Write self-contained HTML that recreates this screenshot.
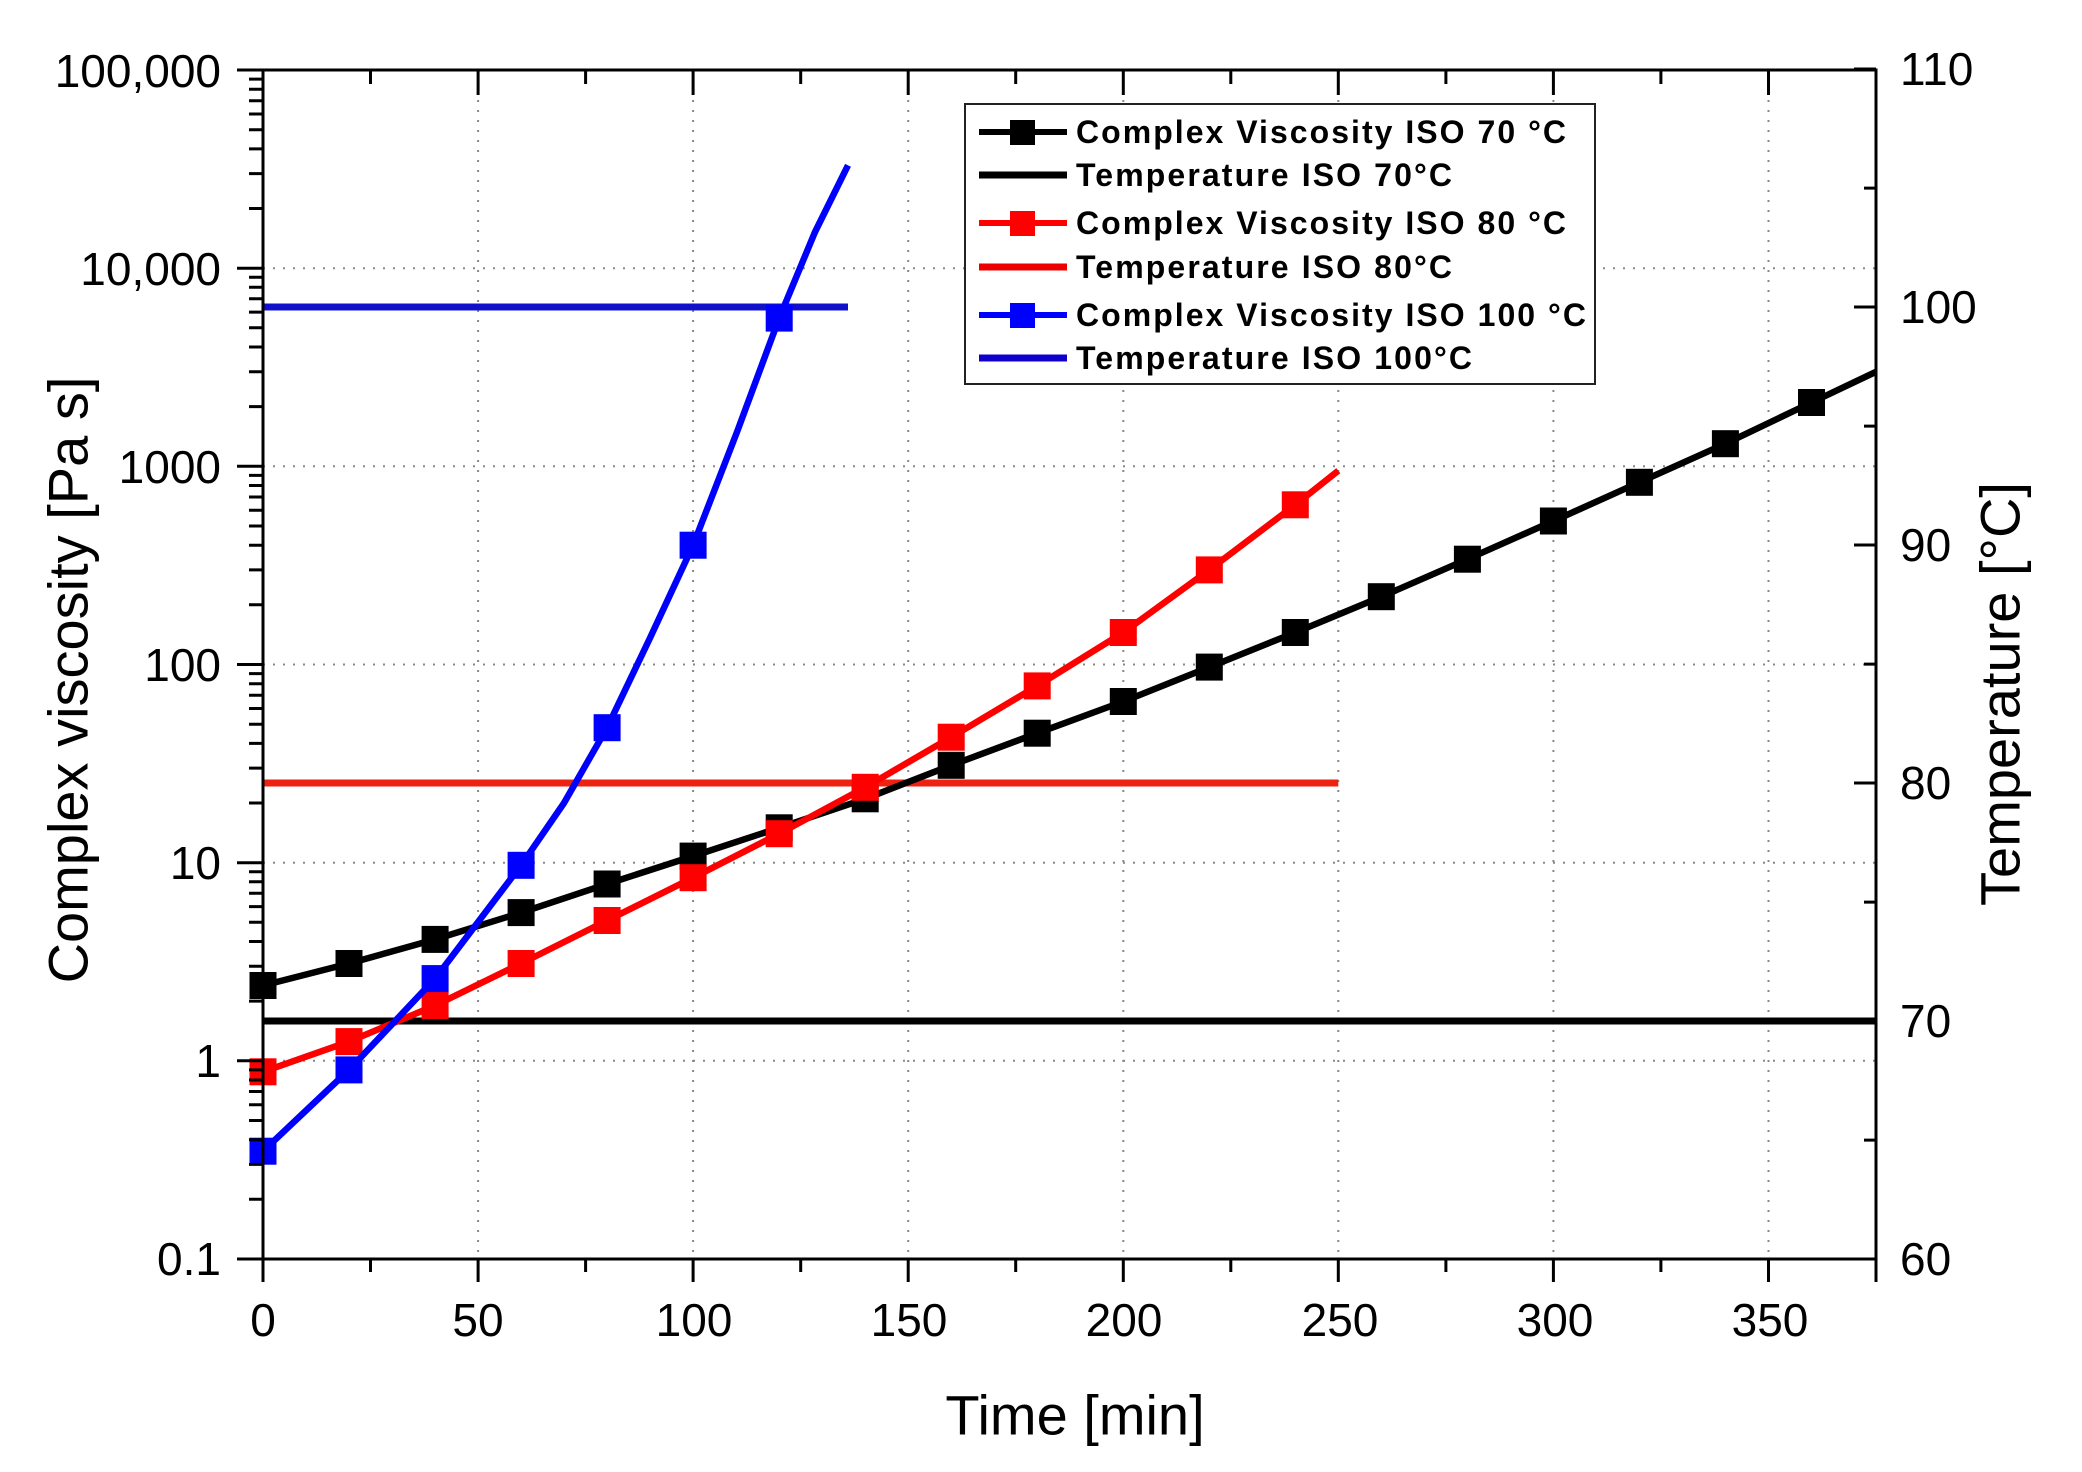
<!DOCTYPE html>
<html><head><meta charset="utf-8"><style>html,body{margin:0;padding:0;background:#fff}svg{display:block}</style></head>
<body>
<svg width="2082" height="1472" viewBox="0 0 2082 1472" xmlns="http://www.w3.org/2000/svg" font-family="Liberation Sans, Arial, sans-serif">
<defs>
<path id="dec" d="M-14,-59.7H0M-14,-94.6H0M-14,-119.3H0M-14,-138.5H0M-14,-154.2H0M-14,-167.5H0M-14,-179H0M-14,-189.1H0M-26,0H0" stroke="#000" stroke-width="3" fill="none"/>
</defs>
<rect width="2082" height="1472" fill="#fff"/>
<g stroke="#888" stroke-width="2" stroke-dasharray="2,8" fill="none">
<path d="M478.1,70V1259M693.1,70V1259M908.2,70V1259M1123.3,70V1259M1338.3,70V1259M1553.4,70V1259M1768.5,70V1259"/>
<path d="M263,862.7H1876M263,664.5H1876M263,466.3H1876M263,268.2H1876M263,1060.8H1876"/>
</g>
<line x1="263" y1="1021" x2="1876" y2="1021" stroke="#000" stroke-width="7"/>
<line x1="263" y1="783" x2="1338.3" y2="783" stroke="#e21" stroke-width="7"/>
<line x1="263" y1="307" x2="848" y2="307" stroke="#11c" stroke-width="7"/>
<polyline fill="none" stroke="#000" stroke-width="6.5" stroke-linejoin="round" points="263,985.5 349,963.5 435.1,939.4 521.1,912.6 607.1,884 693.1,856.1 779.2,827.8 865.2,798.8 951.2,765.3 1037.2,733.2 1123.3,701.5 1209.3,667.1 1295.3,632.5 1381.3,596.7 1467.4,559.2 1553.4,521 1639.4,482.3 1725.4,443.7 1811.5,402.5 1876,371.8"/>
<g fill="#000">
<rect x="249.5" y="972" width="27" height="27"/><rect x="335.5" y="950" width="27" height="27"/><rect x="421.6" y="925.9" width="27" height="27"/><rect x="507.6" y="899.1" width="27" height="27"/><rect x="593.6" y="870.5" width="27" height="27"/><rect x="679.6" y="842.6" width="27" height="27"/><rect x="765.7" y="814.3" width="27" height="27"/><rect x="851.7" y="785.3" width="27" height="27"/><rect x="937.7" y="751.8" width="27" height="27"/><rect x="1023.7" y="719.7" width="27" height="27"/><rect x="1109.8" y="688" width="27" height="27"/><rect x="1195.8" y="653.6" width="27" height="27"/><rect x="1281.8" y="619" width="27" height="27"/><rect x="1367.8" y="583.2" width="27" height="27"/><rect x="1453.9" y="545.7" width="27" height="27"/><rect x="1539.9" y="507.5" width="27" height="27"/><rect x="1625.9" y="468.8" width="27" height="27"/><rect x="1711.9" y="430.2" width="27" height="27"/><rect x="1798" y="389" width="27" height="27"/>
</g>
<polyline fill="none" stroke="#f00" stroke-width="6.5" stroke-linejoin="round" points="263,1071.8 349,1041.6 435.1,1005.5 521.1,963.5 607.1,920.5 693.1,877.7 779.2,833.7 865.2,787.3 951.2,737.2 1037.2,685.9 1123.3,632.5 1209.3,569.9 1295.3,504.8 1338.3,470.7"/>
<g fill="#f00">
<rect x="249.5" y="1058.3" width="27" height="27"/><rect x="335.5" y="1028.1" width="27" height="27"/><rect x="421.6" y="992" width="27" height="27"/><rect x="507.6" y="950" width="27" height="27"/><rect x="593.6" y="907" width="27" height="27"/><rect x="679.6" y="864.2" width="27" height="27"/><rect x="765.7" y="820.2" width="27" height="27"/><rect x="851.7" y="773.8" width="27" height="27"/><rect x="937.7" y="723.7" width="27" height="27"/><rect x="1023.7" y="672.4" width="27" height="27"/><rect x="1109.8" y="619" width="27" height="27"/><rect x="1195.8" y="556.4" width="27" height="27"/><rect x="1281.8" y="491.3" width="27" height="27"/>
</g>
<polyline fill="none" stroke="#00f" stroke-width="6.5" stroke-linejoin="round" points="263,1151.2 349,1069.9 435.1,978.6 521.1,865.3 564,803 607.1,727.7 650,638 693.1,545.2 737,432 779.2,318.1 815,232 848,165.3"/>
<g fill="#00f">
<rect x="249.5" y="1137.7" width="27" height="27"/><rect x="335.5" y="1056.4" width="27" height="27"/><rect x="421.6" y="965.1" width="27" height="27"/><rect x="507.6" y="851.8" width="27" height="27"/><rect x="593.6" y="714.2" width="27" height="27"/><rect x="679.6" y="531.7" width="27" height="27"/><rect x="765.7" y="304.6" width="27" height="27"/>
</g>
<rect x="263" y="70" width="1613" height="1189" fill="none" stroke="#000" stroke-width="3"/>
<use href="#dec" transform="translate(263,1259)"/>
<use href="#dec" transform="translate(263,1060.8)"/>
<use href="#dec" transform="translate(263,862.7)"/>
<use href="#dec" transform="translate(263,664.5)"/>
<use href="#dec" transform="translate(263,466.3)"/>
<use href="#dec" transform="translate(263,268.2)"/>
<path d="M237,70H263" stroke="#000" stroke-width="3"/>
<path stroke="#000" stroke-width="3" fill="none" d="M1854,1259H1876M1864,1140.1H1876M1854,1021H1876M1864,902.1H1876M1854,783H1876M1864,664.1H1876M1854,545H1876M1864,426.1H1876M1854,307H1876M1864,188.1H1876M1854,69H1876"/>
<path stroke="#000" stroke-width="3" fill="none" d="M263,1259v23M370.5,1259v13M478.1,1259v23M585.6,1259v13M693.1,1259v23M800.7,1259v13M908.2,1259v23M1015.7,1259v13M1123.3,1259v23M1230.8,1259v13M1338.3,1259v23M1445.9,1259v13M1553.4,1259v23M1660.9,1259v13M1768.5,1259v23M1876,1259v23
M370.5,70v14M478.1,70v25M585.6,70v14M693.1,70v25M800.7,70v14M908.2,70v25M1015.7,70v14M1123.3,70v25M1230.8,70v14M1338.3,70v25M1445.9,70v14M1553.4,70v25M1660.9,70v14M1768.5,70v25"/>
<text x="1075" y="1415" font-size="56" text-anchor="middle" dominant-baseline="central">Time [min]</text>
<text transform="translate(68,680) rotate(-90)" font-size="56" text-anchor="middle" dominant-baseline="central">Complex viscosity [Pa s]</text>
<text transform="translate(2000,694) rotate(-90)" font-size="56" text-anchor="middle" dominant-baseline="central">Temperature [°C]</text>
<g font-size="46" text-anchor="end" dominant-baseline="central">
<text x="221" y="71">100,000</text><text x="221" y="269">10,000</text><text x="221" y="467">1000</text><text x="221" y="665">100</text><text x="221" y="863">10</text><text x="221" y="1061">1</text><text x="221" y="1259">0.1</text>
</g>
<g font-size="46" text-anchor="start" dominant-baseline="central">
<text x="1900" y="69">110</text><text x="1900" y="307">100</text><text x="1900" y="545">90</text><text x="1900" y="783">80</text><text x="1900" y="1021">70</text><text x="1900" y="1259">60</text>
</g>
<g font-size="46" text-anchor="middle" dominant-baseline="central">
<text x="263" y="1320">0</text><text x="478" y="1320">50</text><text x="694" y="1320">100</text><text x="909" y="1320">150</text><text x="1124" y="1320">200</text><text x="1340" y="1320">250</text><text x="1555" y="1320">300</text><text x="1770" y="1320">350</text>
</g>
<g>
<rect x="965" y="104" width="630" height="280" fill="#fff" stroke="#222" stroke-width="2"/>
<g font-size="32" font-weight="bold" dominant-baseline="central">
<text x="1076" y="132" textLength="490">Complex Viscosity ISO 70 °C</text>
<text x="1076" y="175" textLength="376">Temperature ISO 70°C</text>
<text x="1076" y="223" textLength="490">Complex Viscosity ISO 80 °C</text>
<text x="1076" y="267" textLength="376">Temperature ISO 80°C</text>
<text x="1076" y="315" textLength="510">Complex Viscosity ISO 100 °C</text>
<text x="1076" y="358" textLength="396">Temperature ISO 100°C</text>
</g>
<line x1="979" y1="132" x2="1067" y2="132" stroke="#000" stroke-width="6"/><rect x="1010" y="120" width="25" height="25" fill="#000"/>
<line x1="979" y1="175" x2="1067" y2="175" stroke="#000" stroke-width="7"/>
<line x1="979" y1="223" x2="1067" y2="223" stroke="#f00" stroke-width="6"/><rect x="1010" y="211" width="25" height="25" fill="#f00"/>
<line x1="979" y1="267" x2="1067" y2="267" stroke="#e00" stroke-width="7"/>
<line x1="979" y1="315" x2="1067" y2="315" stroke="#00f" stroke-width="6"/><rect x="1010" y="303" width="25" height="25" fill="#00f"/>
<line x1="979" y1="358" x2="1067" y2="358" stroke="#10c" stroke-width="7"/>
</g>
</svg>
</body></html>
